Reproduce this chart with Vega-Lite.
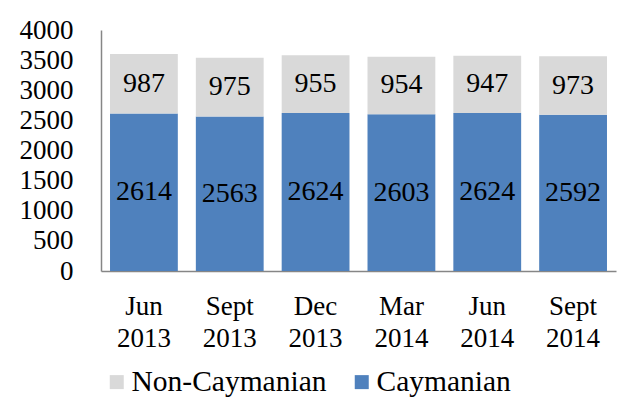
{
  "$schema": "https://vega.github.io/schema/vega-lite/v6.json",
  "width": 515,
  "height": 241,
  "autosize": {"type": "none"},
  "padding": {"left": 101, "top": 30, "right": 6, "bottom": 133},
  "background": "white",
  "config": {
    "font": "Liberation Serif, Times New Roman, serif",
    "view": {"stroke": null},
    "axis": {"labelFont": "Liberation Serif, Times New Roman, serif", "labelColor": "black", "grid": false, "ticks": false, "domainColor": "#868686", "domainWidth": 1.5, "title": null, "labelOverlap": false},
    "legend": {"labelFont": "Liberation Serif, Times New Roman, serif"},
    "text": {"font": "Liberation Serif, Times New Roman, serif"}
  },
  "data": {
    "values": [
      {"period": "Jun 2013", "series": "Caymanian", "count": 2614},
      {"period": "Jun 2013", "series": "Non-Caymanian", "count": 987},
      {"period": "Sept 2013", "series": "Caymanian", "count": 2563},
      {"period": "Sept 2013", "series": "Non-Caymanian", "count": 975},
      {"period": "Dec 2013", "series": "Caymanian", "count": 2624},
      {"period": "Dec 2013", "series": "Non-Caymanian", "count": 955},
      {"period": "Mar 2014", "series": "Caymanian", "count": 2603},
      {"period": "Mar 2014", "series": "Non-Caymanian", "count": 954},
      {"period": "Jun 2014", "series": "Caymanian", "count": 2624},
      {"period": "Jun 2014", "series": "Non-Caymanian", "count": 947},
      {"period": "Sept 2014", "series": "Caymanian", "count": 2592},
      {"period": "Sept 2014", "series": "Non-Caymanian", "count": 973}
    ]
  },
  "transform": [
    {"stack": "count", "groupby": ["period"], "sort": [{"field": "series", "order": "ascending"}], "as": ["y0", "y1"]},
    {"calculate": "(datum.y0 + datum.y1) / 2", "as": "ymid"}
  ],
  "encoding": {
    "x": {
      "field": "period",
      "type": "nominal",
      "sort": ["Jun 2013", "Sept 2013", "Dec 2013", "Mar 2014", "Jun 2014", "Sept 2014"],
      "scale": {"paddingInner": 0.21, "paddingOuter": 0.105},
      "axis": {"labelAngle": 0, "labelFontSize": 27, "labelLineHeight": 32, "labelPadding": 22, "labelExpr": "split(datum.label, ' ')"}
    }
  },
  "layer": [
    {
      "mark": {"type": "bar"},
      "encoding": {
        "y": {
          "field": "y0",
          "type": "quantitative",
          "scale": {"domain": [0, 4000]},
          "axis": {"values": [0, 500, 1000, 1500, 2000, 2500, 3000, 3500, 4000], "format": "d", "labelFontSize": 27, "labelPadding": 28, "labelOverlap": false, "labelBound": false, "labelFlush": false}
        },
        "y2": {"field": "y1"},
        "color": {
          "field": "series",
          "type": "nominal",
          "scale": {"domain": ["Non-Caymanian", "Caymanian"], "range": ["#D9D9D9", "#4F81BD"]},
          "legend": {
            "title": null,
            "orient": "none",
            "direction": "horizontal",
            "legendX": 1,
            "legendY": 337,
            "padding": 0,
            "symbolType": "square",
            "symbolSize": 196,
            "symbolStrokeWidth": 0,
            "labelFontSize": 29.5,
            "labelColor": "black",
            "labelOffset": 0,
            "labelLimit": 0,
            "columnPadding": 20
          }
        }
      }
    },
    {
      "mark": {"type": "text", "fontSize": 28, "color": "black", "baseline": "middle", "align": "center"},
      "encoding": {
        "y": {
          "field": "ymid",
          "type": "quantitative",
          "scale": {"domain": [0, 4000]},
          "axis": {"values": [0, 500, 1000, 1500, 2000, 2500, 3000, 3500, 4000], "format": "d", "labelFontSize": 27, "labelPadding": 28, "labelOverlap": false, "labelBound": false, "labelFlush": false}
        },
        "text": {"field": "count", "type": "quantitative"}
      }
    }
  ]
}
